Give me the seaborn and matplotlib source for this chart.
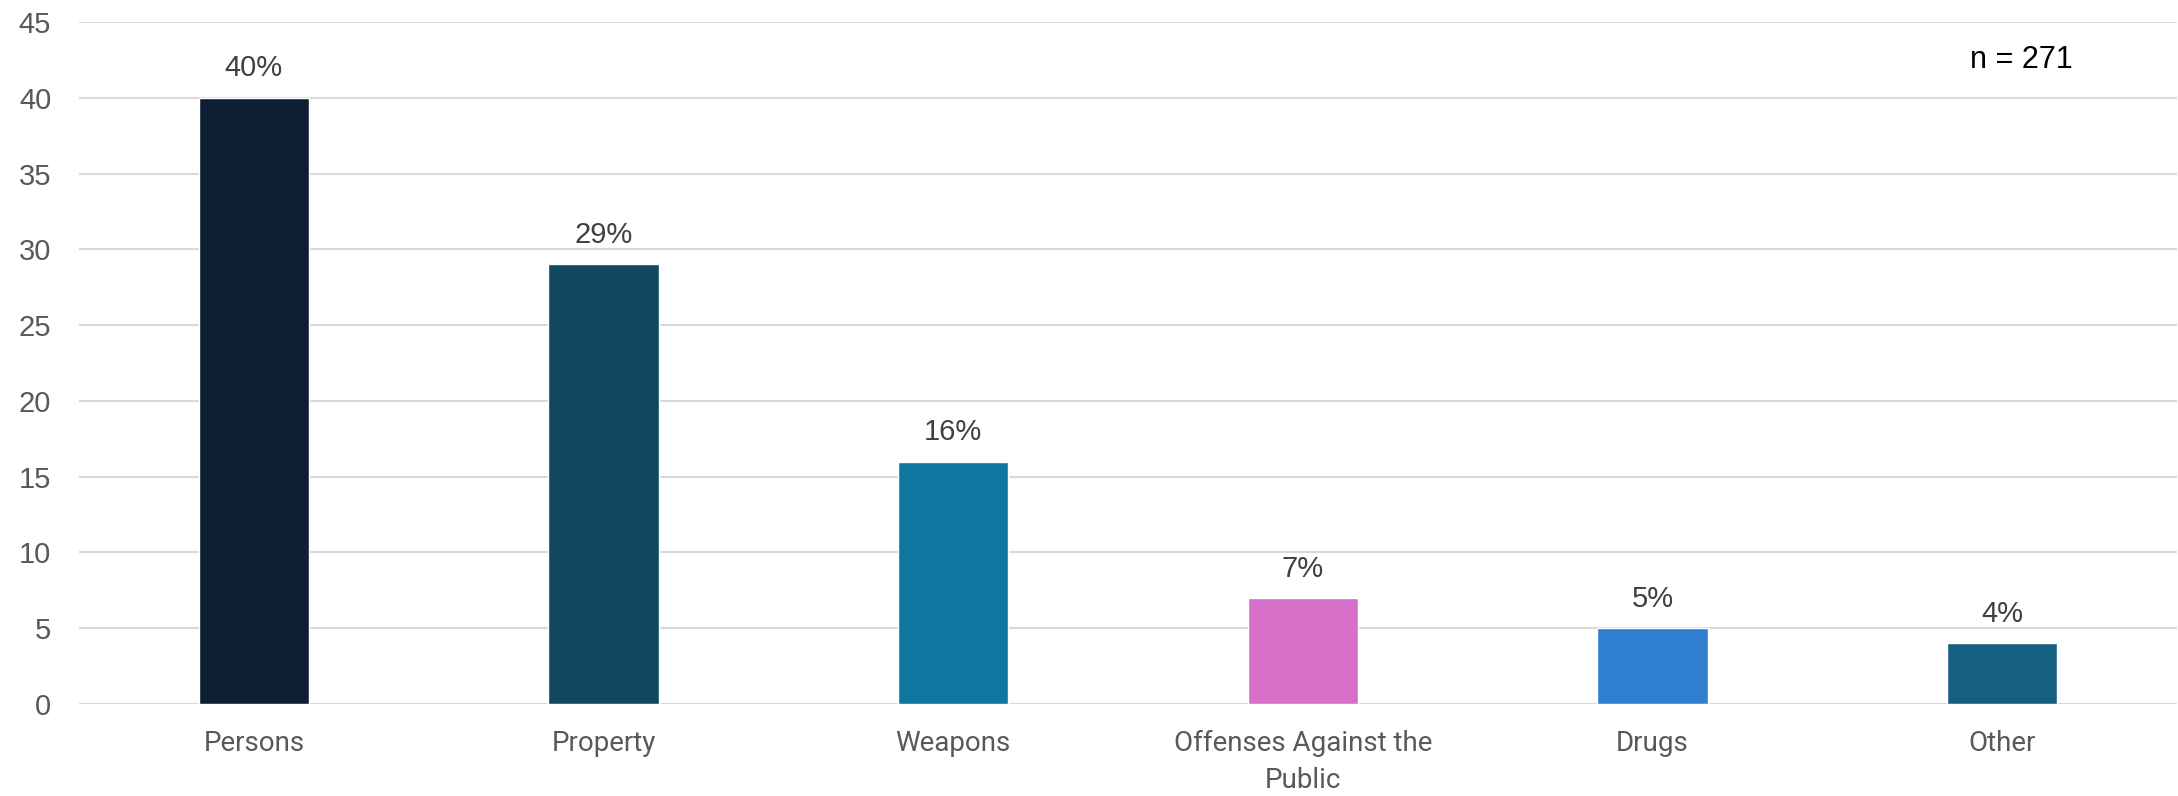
import matplotlib
matplotlib.use("Agg")
import matplotlib.pyplot as plt
import seaborn as sns
import pandas as pd

# dane z wykresu
categories = ["Persons", "Property", "Weapons", "Offenses Against the\nPublic", "Drugs", "Other"]
values = [40, 29, 16, 7, 5, 4]
labels = ["40%", "29%", "16%", "7%", "5%", "4%"]
colors = ["#0E1F33", "#11475F", "#0E77A1", "#D66FC8", "#2E7FCF", "#165F82"]
y_ticks = [0, 5, 10, 15, 20, 25, 30, 35, 40, 45]
n_text = "n = 271"

df = pd.DataFrame({"category": categories, "value": values})

sns.set_theme(style="white")
plt.rcParams["font.family"] = ["Roboto", "DejaVu Sans"]

fig = plt.figure(figsize=(21.78, 7.96), dpi=100)
ax = fig.add_axes([79 / 2178, 1 - 704 / 796, (2177 - 79) / 2178, (704 - 22) / 796])

sns.barplot(data=df, x="category", y="value", hue="category", palette=colors,
            legend=False, width=0.315, saturation=1, ax=ax, zorder=3)

ax.set_ylim(0, 45)
ax.set_xlim(-0.5, len(categories) - 0.5)
ax.set_yticks(y_ticks)
ax.yaxis.grid(True, color="#D9D9D9", linewidth=1.5, zorder=0)
ax.set_axisbelow(True)
for s in ax.spines.values():
    s.set_visible(False)
ax.tick_params(axis="both", length=0, labelcolor="#595959")
ax.tick_params(axis="x", pad=19, labelsize=20)
ax.tick_params(axis="y", pad=20)
ax.set_xlabel("")
ax.set_ylabel("")
for lbl in ax.get_xticklabels():
    lbl.set_linespacing(1.45)
for lbl in ax.get_yticklabels():
    lbl.set_fontfamily(["Liberation Sans", "DejaVu Sans"])
    lbl.set_fontsize(21)

# etykiety nad slupkami
for i, (v, t) in enumerate(zip(values, labels)):
    ax.annotate(t, (i, v), xytext=(0, 11), textcoords="offset points",
                ha="center", va="bottom", fontsize=21, color="#404040",
                family=["Liberation Sans", "DejaVu Sans"])

ax.text(0.926, 0.944, n_text, transform=ax.transAxes, ha="center", va="center",
        fontsize=22, color="black", family=["Liberation Sans", "DejaVu Sans"])

fig.savefig("out.png", dpi=100)
